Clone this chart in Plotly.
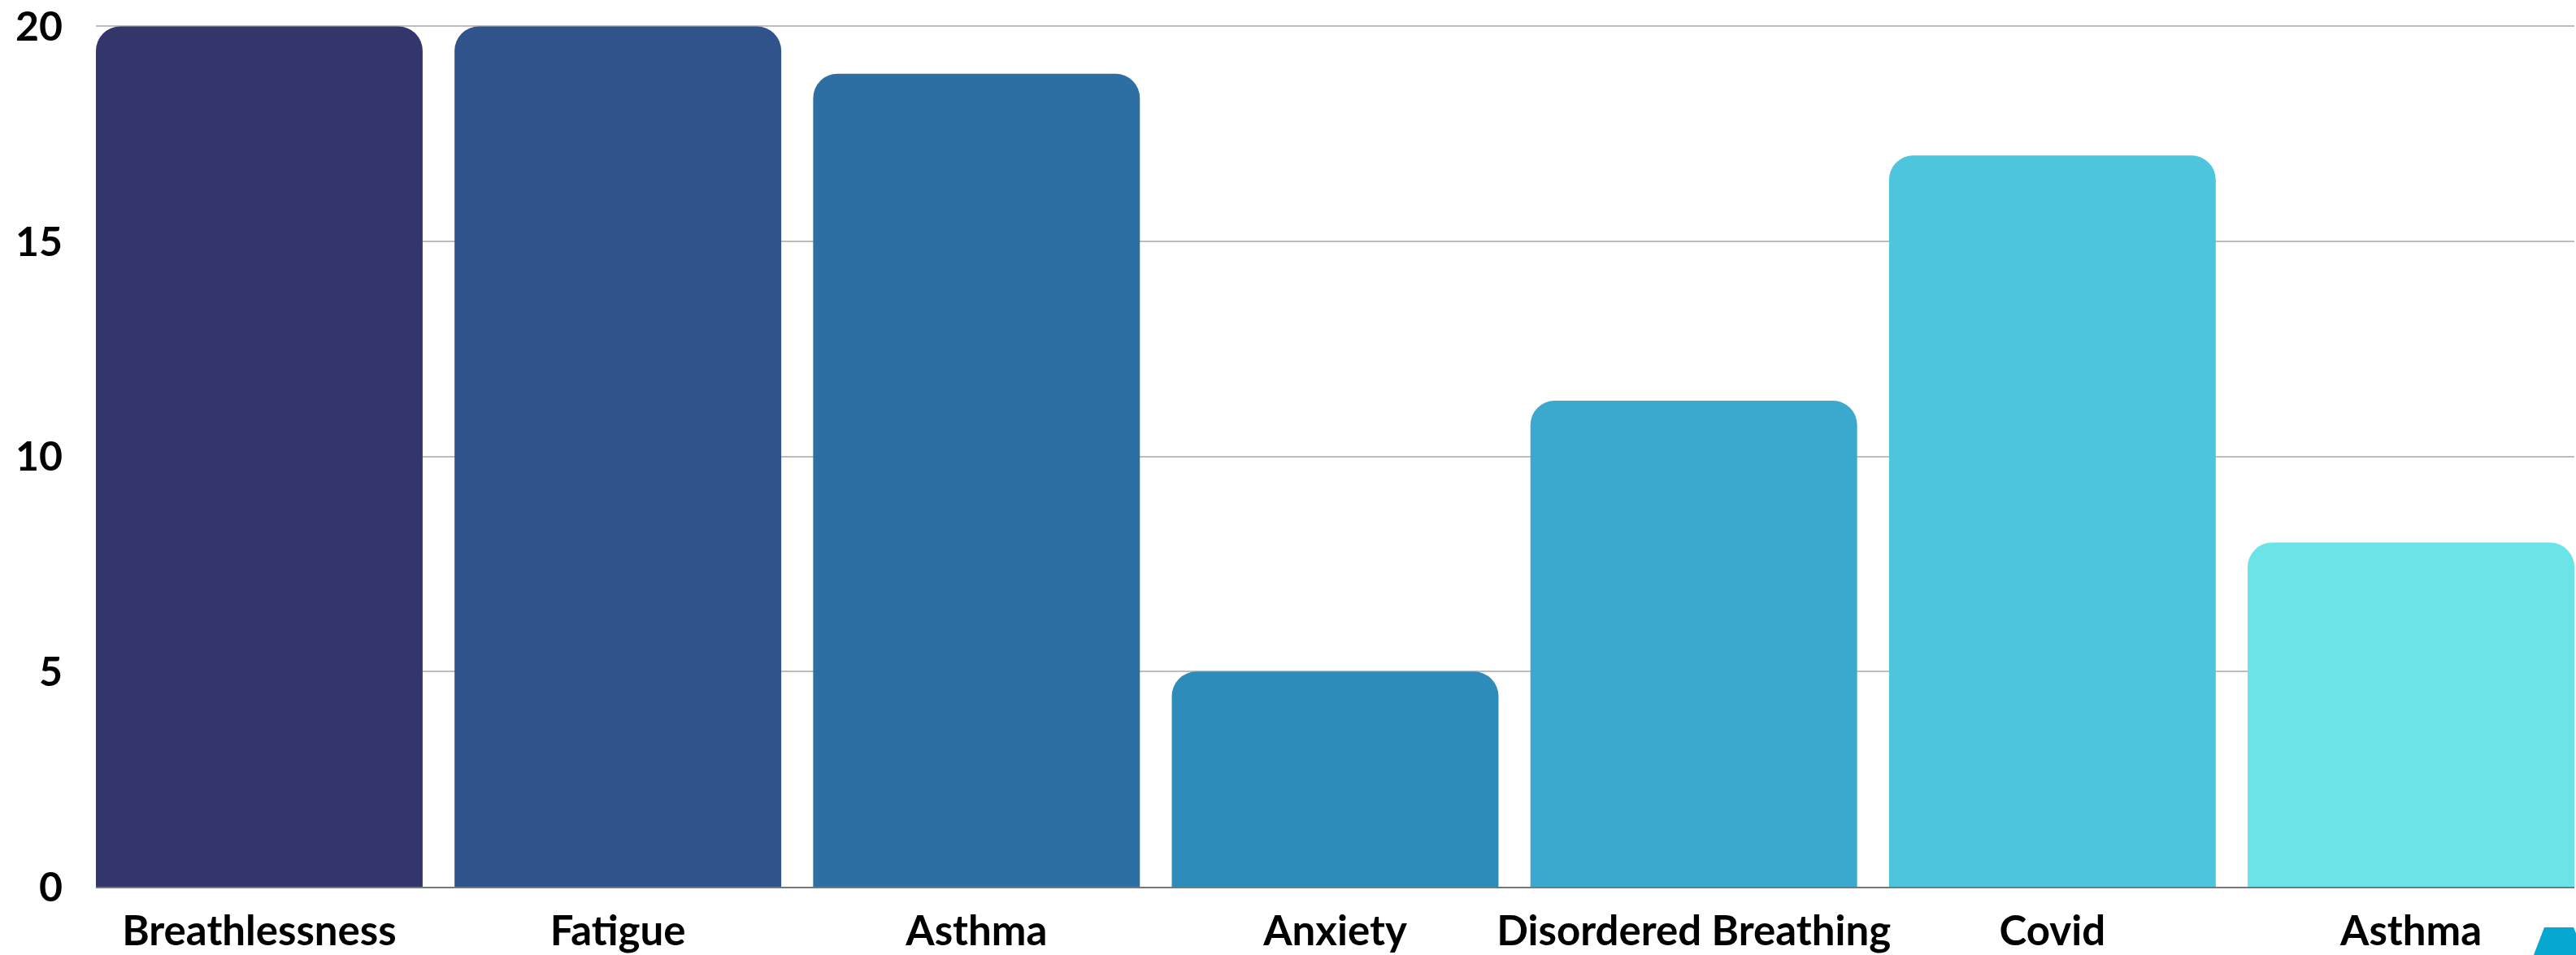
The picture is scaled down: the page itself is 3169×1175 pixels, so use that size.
import plotly.graph_objects as go

# Symptom categories and counts
categories = ["Breathlessness", "Fatigue", "Asthma", "Anxiety",
              "Disordered Breathing", "Covid", "Asthma"]
values = [20, 20, 18.9, 5, 11.3, 17, 8]
bar_colors = ["#32366B", "#31538C", "#2D6FA3", "#2E8CBA",
              "#3BA8CD", "#4DC5DC", "#6BE4E8"]
y_ticks = [0, 5, 10, 15, 20]

W, H = 3169, 1175
M_L, M_R, M_T, M_B = 118, 2, 5.5, 84
BAR_W = 0.911

x_pos = list(range(len(categories)))

fig = go.Figure(
    go.Bar(
        x=x_pos,
        y=values,
        width=BAR_W,
        marker=dict(color=bar_colors, line=dict(width=0), cornerradius=30),
        hoverinfo="skip",
    )
)


def px_to_paper(px, py):
    """Convert page pixel coordinates to paper coordinates."""
    pw = W - M_L - M_R
    ph = H - M_T - M_B
    return (px - M_L) / pw, 1 - (py - M_T) / ph


# small cyan corner mark at the bottom right of the page
corner = [(3130, 1141), (3166, 1141), (3180, 1175), (3117, 1175)]
pts = [px_to_paper(x, y) for x, y in corner]
path = "M " + " L ".join(f"{x:.5f},{y:.5f}" for x, y in pts) + " Z"

fig.update_layout(
    width=W,
    height=H,
    margin=dict(l=M_L, r=M_R, t=M_T, b=M_B, pad=0, autoexpand=False),
    paper_bgcolor="white",
    plot_bgcolor="white",
    showlegend=False,
    font=dict(family="Lato", color="black"),
    shapes=[dict(type="path", path=path, xref="paper", yref="paper",
                 fillcolor="#06A7D0", line=dict(width=0), layer="above")],
    xaxis=dict(
        range=[-BAR_W / 2, len(categories) - 1 + BAR_W / 2],
        tickmode="array",
        tickvals=x_pos,
        ticktext=categories,
        tickfont=dict(family="Lato", size=51, weight="bold", color="black"),
        showgrid=False,
        zeroline=False,
        showline=True,
        linecolor="#777777",
        linewidth=2,
        ticks="",
        ticklabelstandoff=9,
        layer="above traces",
        automargin=False,
        fixedrange=True,
    ),
    yaxis=dict(
        range=[0, 20.5],
        tickmode="array",
        tickvals=y_ticks,
        tickfont=dict(family="Lato", size=50, weight="bold", color="black"),
        showgrid=True,
        gridcolor="#BDBDBD",
        gridwidth=2,
        zeroline=False,
        showline=False,
        ticks="",
        ticklabelstandoff=40,
        automargin=False,
        fixedrange=True,
    ),
)

fig.write_html("out.html", config={"displayModeBar": False})
